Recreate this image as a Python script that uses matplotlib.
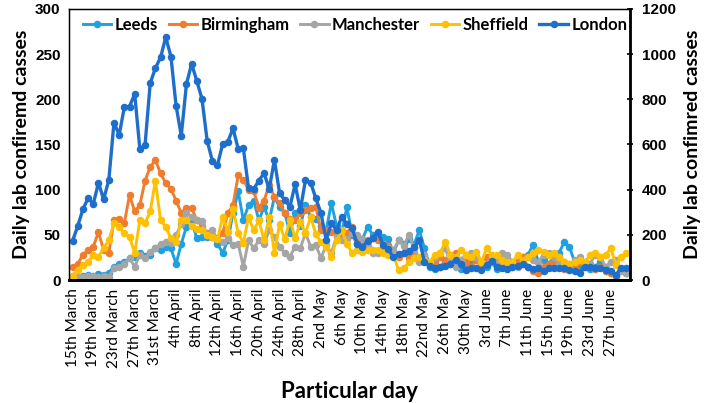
import numpy as np
import matplotlib
matplotlib.use("Agg")
import matplotlib.pyplot as plt

tick_labels = ["15th March", "19th March", "23rd March", "27th March", "31st March",
               "4th April", "8th April", "12th April", "16th April", "20th April",
               "24th April", "28th April", "2nd May", "6th May", "10th May",
               "14th May", "18th May", "22nd May", "26th May", "30th May",
               "3rd June", "7th June", "11th June", "15th June", "19th June",
               "23rd June", "27th June"]

leeds = [5, 2, 4, 6, 5, 7, 6, 8, 15, 18,
         20, 24, 26, 30, 27, 28, 35, 33, 37, 35,
         18, 40, 59, 66, 46, 48, 48, 48, 40, 30,
         44, 74, 98, 66, 83, 88, 66, 81, 66, 92,
         81, 74, 52, 74, 60, 83, 70, 68, 60, 55,
         85, 60, 52, 81, 50, 40, 45, 59, 50, 45,
         48, 45, 30, 44, 40, 45, 40, 55, 35, 15,
         12, 15, 20, 18, 22, 12, 15, 20, 25, 18,
         15, 20, 12, 22, 18, 15, 20, 25, 28, 39,
         20, 22, 18, 25, 30, 42, 37, 20, 15, 18,
         12, 15, 20, 10, 8, 5, 12, 8]

birmingham = [15, 18, 28, 33, 37, 53, 33, 30, 66, 68,
              63, 94, 76, 83, 110, 125, 133, 118, 107, 101,
              88, 74, 80, 80, 66, 60, 52, 48, 46, 52,
              74, 83, 116, 111, 100, 98, 80, 88, 105, 92,
              85, 74, 68, 66, 74, 77, 80, 81, 55, 55,
              53, 52, 50, 52, 59, 42, 40, 44, 46, 44,
              40, 38, 31, 26, 30, 24, 30, 24, 22, 18,
              20, 25, 22, 28, 30, 22, 20, 15, 22, 18,
              25, 20, 18, 22, 15, 18, 20, 25, 15, 10,
              8, 15, 18, 20, 25, 12, 18, 15, 20, 15,
              18, 12, 15, 10, 8, 5, 12, 10]

manchester = [4, 3, 3, 4, 4, 3, 4, 3, 13, 15,
              18, 24, 15, 28, 24, 31, 35, 40, 42, 41,
              50, 62, 74, 70, 66, 65, 50, 55, 45, 42,
              46, 39, 40, 15, 44, 35, 44, 40, 55, 48,
              37, 30, 26, 37, 35, 52, 37, 39, 24, 39,
              30, 48, 44, 45, 52, 50, 45, 38, 30, 30,
              33, 35, 33, 44, 38, 50, 35, 20, 28, 18,
              25, 30, 35, 20, 15, 22, 28, 30, 25, 20,
              18, 25, 22, 30, 28, 20, 15, 18, 25, 22,
              20, 28, 30, 25, 18, 20, 15, 22, 25, 20,
              18, 28, 25, 15, 20, 22, 10, 8]

sheffield = [5, 11, 17, 20, 28, 26, 35, 44, 63, 59,
             52, 48, 30, 66, 63, 76, 110, 66, 59, 46,
             42, 66, 66, 60, 57, 55, 50, 48, 45, 70,
             53, 79, 52, 41, 70, 55, 66, 44, 70, 30,
             62, 45, 67, 46, 64, 52, 70, 51, 42, 37,
             26, 44, 55, 40, 30, 33, 31, 33, 33, 33,
             30, 28, 27, 11, 13, 20, 24, 26, 22, 20,
             28, 30, 42, 28, 25, 33, 28, 25, 31, 20,
             35, 28, 28, 22, 20, 20, 28, 22, 25, 30,
             33, 31, 28, 30, 25, 20, 18, 20, 22, 20,
             28, 30, 25, 28, 35, 17, 26, 30]

london = [174, 239, 314, 362, 337, 431, 357, 443, 697, 642,
          765, 768, 824, 579, 598, 871, 938, 985, 1075, 989,
          771, 639, 867, 957, 881, 802, 617, 528, 509, 602,
          612, 672, 580, 583, 406, 403, 440, 473, 403, 532,
          384, 354, 325, 424, 310, 442, 431, 362, 296, 177,
          251, 221, 280, 248, 230, 160, 146, 173, 186, 212,
          155, 137, 100, 115, 120, 128, 146, 177, 80, 62,
          55, 60, 62, 72, 88, 70, 45, 52, 52, 45,
          68, 85, 60, 52, 48, 58, 62, 70, 58, 48,
          54, 42, 52, 55, 55, 52, 45, 40, 32, 60,
          60, 55, 55, 45, 38, 22, 55, 55]

left_series = [("Leeds", leeds, "#1FA0E0"),
               ("Birmingham", birmingham, "#F07C2E"),
               ("Manchester", manchester, "#A5A5A5"),
               ("Sheffield", sheffield, "#FFC000")]

fig = plt.figure(figsize=(7.11, 4.03), dpi=100)
ax = fig.add_axes([0.097, 0.305, 0.789, 0.673])
x = np.arange(len(leeds))

lw = 2.1
ms = 4.4
handles = []
for name, vals, col in left_series:
    h, = ax.plot(x, vals, color=col, lw=lw, marker="o", ms=ms, label=name)
    handles.append(h)

ax2 = ax.twinx()
h, = ax2.plot(x, london, color="#1E6FCC", lw=2.4, marker="o", ms=ms, label="London")
handles.append(h)

ax.set_xlim(-0.7, len(x) - 0.3)
ax.set_ylim(0, 300)
ax2.set_ylim(0, 1200)
ax.set_yticks(np.arange(0, 301, 50))
ax2.set_yticks(np.arange(0, 1201, 200))

ax.set_xticks(np.arange(0, len(x), 4))
ax.set_xticklabels(tick_labels, rotation=90, fontsize=11, family="Lato")

for lab in ax.get_yticklabels() + ax2.get_yticklabels():
    lab.set_fontfamily("Liberation Sans")
    lab.set_fontweight("bold")
    lab.set_fontsize(11)

ax.tick_params(axis="x", length=0, pad=6)
ax.tick_params(axis="y", length=0, pad=6)
ax2.tick_params(axis="y", length=5, direction="inout", width=1.2, pad=6)

for sp in ax.spines.values():
    sp.set_linewidth(1.0)
ax.spines["bottom"].set_linewidth(2.0)
ax2.spines["right"].set_linewidth(2.0)
ax2.spines["bottom"].set_linewidth(2.0)

ax.set_ylabel("Daily lab confiremd casses", fontsize=14, fontweight="bold",
              family="Lato", labelpad=4)
ax2.set_ylabel("Daily lab confimred casses", fontsize=14, fontweight="bold",
               family="Lato", labelpad=6)
ax.set_xlabel("Particular day", fontsize=16, fontweight="bold", family="Lato",
              labelpad=10)

leg = ax2.legend(handles=handles, loc="upper left", bbox_to_anchor=(-0.002, 1.025),
                 ncol=5, frameon=False, handlelength=1.7, handletextpad=0.2,
                 columnspacing=0.65, prop={"family": "Lato", "weight": "bold", "size": 12})

fig.savefig("out.png", dpi=100)
